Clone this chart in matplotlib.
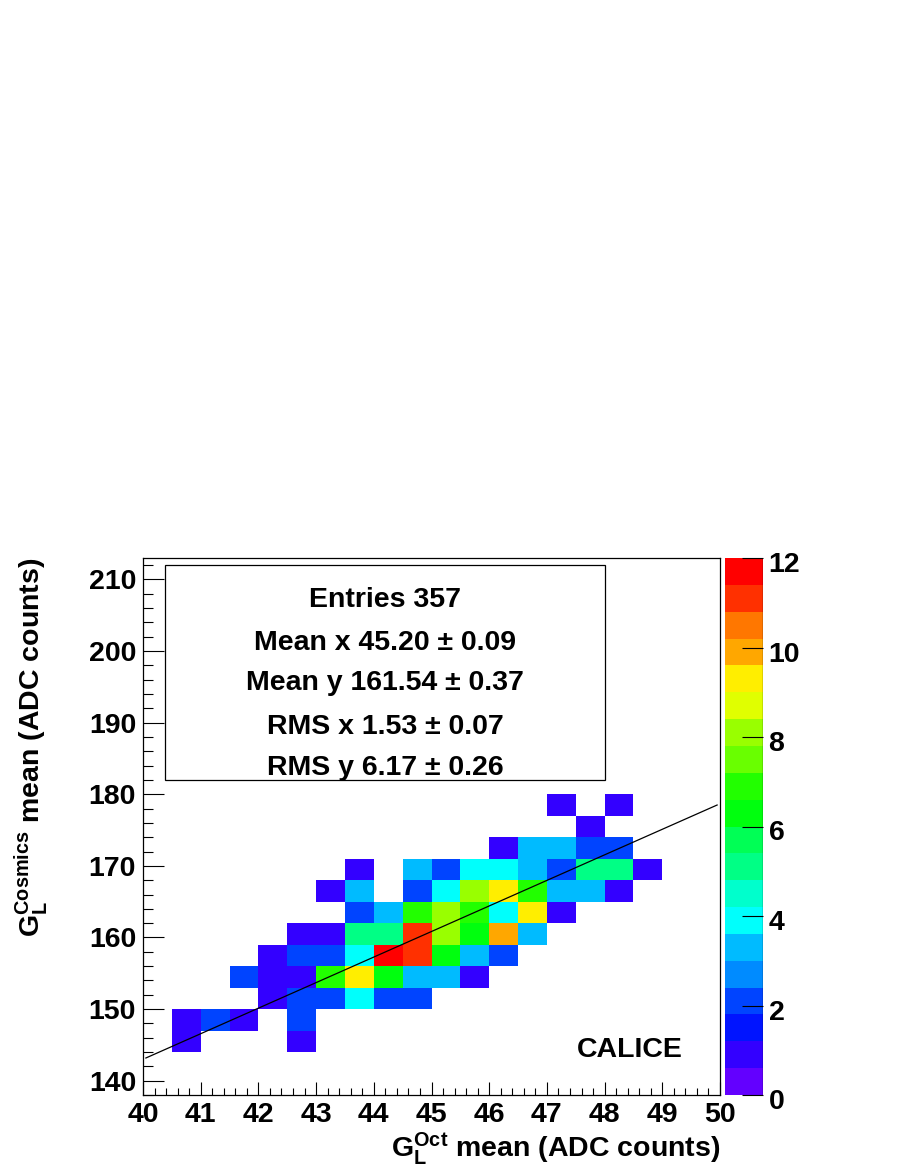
import colorsys
import numpy as np
import matplotlib
matplotlib.use("Agg")
import matplotlib.pyplot as plt
import matplotlib.transforms as mtransforms
from matplotlib.colors import ListedColormap, BoundaryNorm
from matplotlib.ticker import MultipleLocator

plt.rcParams['font.family'] = ['Liberation Sans', 'DejaVu Sans']
plt.rcParams['font.weight'] = 'bold'
plt.rcParams['mathtext.fontset'] = 'custom'
plt.rcParams['mathtext.rm'] = 'Liberation Sans:bold'
plt.rcParams['mathtext.bf'] = 'Liberation Sans:bold'
plt.rcParams['mathtext.it'] = 'Liberation Sans:bold'

# binning (x: 0.5 ADC, y: 3 ADC), only the filled rows are listed
x_edges = np.arange(40.0, 50.01, 0.5)
y_edges = np.arange(144.0, 180.01, 3.0)

# counts, one row per y bin, from y=144 upwards, 20 x bins from 40 to 50
counts = [
    [0, 1, 0, 0, 0, 1, 0, 0, 0, 0, 0, 0, 0, 0, 0, 0, 0, 0, 0, 0],
    [0, 1, 2, 1, 0, 2, 0, 0, 0, 0, 0, 0, 0, 0, 0, 0, 0, 0, 0, 0],
    [0, 0, 0, 0, 1, 2, 2, 4, 2, 2, 0, 0, 0, 0, 0, 0, 0, 0, 0, 0],
    [0, 0, 0, 2, 1, 1, 7, 9, 6, 3, 3, 1, 0, 0, 0, 0, 0, 0, 0, 0],
    [0, 0, 0, 0, 1, 2, 2, 4, 12, 11, 6, 3, 2, 0, 0, 0, 0, 0, 0, 0],
    [0, 0, 0, 0, 0, 1, 1, 5, 5, 11, 8, 6, 10, 3, 0, 0, 0, 0, 0, 0],
    [0, 0, 0, 0, 0, 0, 0, 2, 3, 7, 8, 7, 4, 9, 1, 0, 0, 0, 0, 0],
    [0, 0, 0, 0, 0, 0, 1, 3, 0, 2, 4, 8, 9, 7, 3, 3, 1, 0, 0, 0],
    [0, 0, 0, 0, 0, 0, 0, 1, 0, 3, 2, 4, 4, 3, 2, 5, 5, 1, 0, 0],
    [0, 0, 0, 0, 0, 0, 0, 0, 0, 0, 0, 0, 1, 3, 3, 2, 2, 0, 0, 0],
    [0, 0, 0, 0, 0, 0, 0, 0, 0, 0, 0, 0, 0, 0, 0, 1, 0, 0, 0, 0],
    [0, 0, 0, 0, 0, 0, 0, 0, 0, 0, 0, 0, 0, 0, 1, 0, 1, 0, 0, 0],
]

# straight line fit drawn over the histogram
fit_range = [40.05, 49.95]
fit_intercept = 0.23
fit_slope = 3.569

stats_lines = [
    "Entries 357",
    "Mean x 45.20 \u00b1 0.09",
    "Mean y 161.54 \u00b1 0.37",
    "RMS x 1.53 \u00b1 0.07",
    "RMS y 6.17 \u00b1 0.26",
]

# old ROOT "pretty" palette: 50 HLS colours, 20 contour levels picked from it
ncol, ndiv = 50, 20
palette = [colorsys.hls_to_rgb((280 - (i + 1) * 280 / ncol) / 360.0, 0.5, 1.0) for i in range(ncol)]
level_cols = [palette[int((i + 0.99) * ncol / ndiv)] for i in range(ndiv)]
cmap = ListedColormap(level_cols)
bounds = np.arange(ndiv + 1) * 12 / ndiv
norm = BoundaryNorm(bounds, cmap.N)

W, H = 905, 1171
fig = plt.figure(figsize=(W / 100, H / 100), dpi=100)

def fx(px):
    return px / W

def fy(py):
    return 1 - py / H

ax = fig.add_axes([fx(143), fy(1095), fx(720) - fx(143), fy(558) - fy(1095)])
z = np.ma.masked_equal(np.array(counts, dtype=float), 0)
mesh = ax.pcolormesh(x_edges, y_edges, z, cmap=cmap, norm=norm, edgecolors='none')

fx_line = np.array(fit_range)
ax.plot(fx_line, fit_intercept + fit_slope * fx_line, color='black', lw=0.9)

ax.set_xlim(40, 50)
ax.set_ylim(138, 213)
ax.xaxis.set_major_locator(MultipleLocator(1))
ax.xaxis.set_minor_locator(MultipleLocator(0.2))
ax.yaxis.set_major_locator(MultipleLocator(10))
ax.yaxis.set_minor_locator(MultipleLocator(2))
ax.tick_params(axis='x', which='major', direction='in', length=9.4, width=0.8,
               labelsize=20.5, pad=5)
ax.tick_params(axis='x', which='minor', direction='in', length=4.8, width=0.8)
ax.tick_params(axis='y', which='major', direction='in', length=15, width=0.8,
               labelsize=20.5, pad=5)
ax.tick_params(axis='y', which='minor', direction='in', length=7.5, width=0.8)
for lab in ax.get_xticklabels() + ax.get_yticklabels():
    lab.set_fontweight('bold')
for sp in ax.spines.values():
    sp.set_linewidth(0.9)

# colour scale
cax = fig.add_axes([fx(725), fy(1095), fx(763) - fx(725), fy(558) - fy(1095)])
cb = fig.colorbar(mesh, cax=cax, ticks=np.arange(0, 13, 2))
cb.outline.set_visible(False)
cax.axvline(1, color='black', lw=0.9)
cax.yaxis.set_ticks_position('right')
cax.tick_params(which='major', direction='in', length=15, width=0.8, labelsize=20.5, pad=4)
cax.minorticks_off()
shift = mtransforms.ScaledTranslation(0, -0.04, fig.dpi_scale_trans)
for lab in cax.get_yticklabels():
    lab.set_fontweight('bold')
    lab.set_transform(lab.get_transform() + shift)

# statistics box
box = plt.Rectangle((fx(165), fy(780)), fx(605) - fx(165), fy(565) - fy(780),
                    transform=fig.transFigure, fill=True, facecolor='white',
                    edgecolor='black', lw=0.9, zorder=5)
fig.patches.append(box)
for txt, yb in zip(stats_lines, [607, 650, 690, 734, 775]):
    fig.text(fx(385), fy(yb), txt, ha='center', va='baseline', fontsize=20.5,
             fontweight='bold', zorder=6)

fig.text(fx(630), fy(1057), "CALICE", ha='center', va='baseline', fontsize=20.5, fontweight='bold')

fig.text(fx(720), fy(1157), r"$\mathbf{G}_{\mathbf{L}}^{\mathbf{Oct}}$ mean (ADC counts)",
         ha='right', va='baseline', fontsize=20.5, fontweight='bold')
fig.text(fx(31), fy(558), r"$\mathbf{G}_{\mathbf{L}}^{\mathbf{Cosmics}}$ mean (ADC counts)",
         ha='center', va='top', rotation=90, fontsize=20.5, fontweight='bold')

fig.savefig("out.png", dpi=100)
